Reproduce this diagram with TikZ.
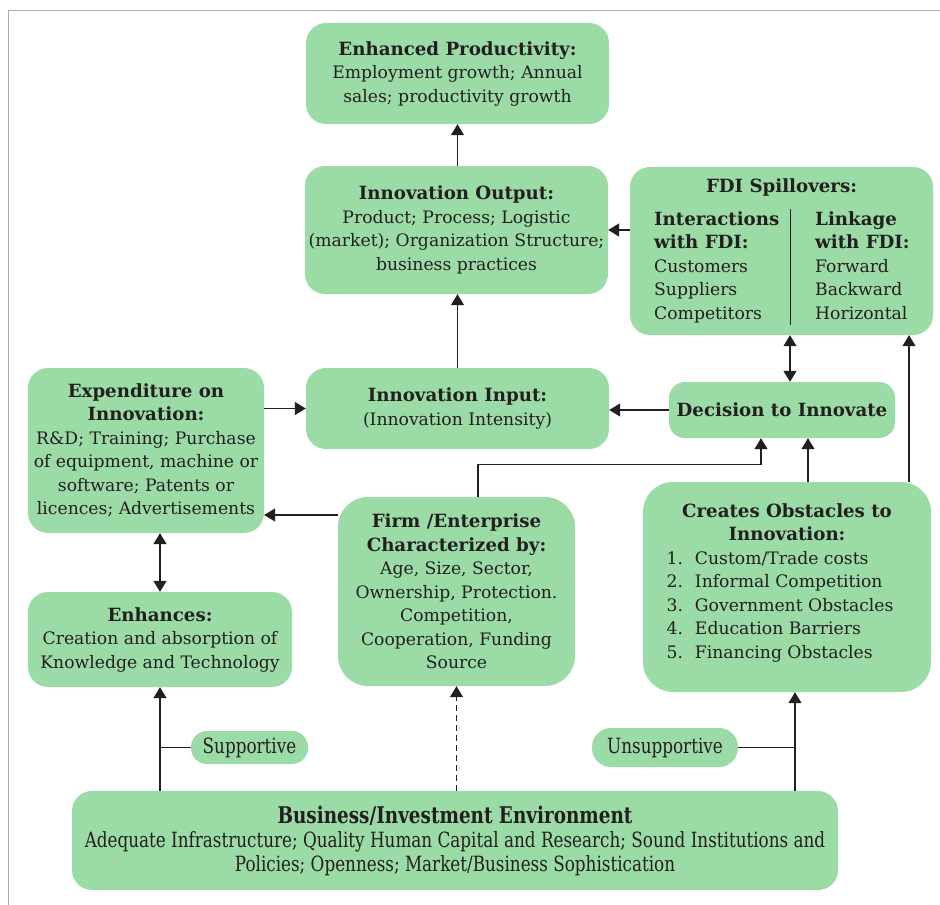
\documentclass[tikz,border=0pt]{standalone}
\usepackage{fontspec}
\setmainfont{DejaVu Serif}
\newfontfamily\condfont[FakeStretch=0.8]{DejaVu Serif}
\usetikzlibrary{arrows.meta}
\definecolor{boxgreen}{RGB}{155,219,165}
\definecolor{ink}{RGB}{35,31,32}
\definecolor{framegray}{RGB}{170,170,170}
\newcommand{\mfont}{\fontsize{17.2}{23.5}\selectfont}
\newcommand{\cfont}{\condfont\fontsize{21}{24}\selectfont}
\newcommand{\hd}[1]{{\fontsize{18.2}{23.5}\selectfont\bfseries #1}}
\tikzset{
  box/.style={fill=boxgreen, draw=none, rounded corners=20pt, align=center, inner sep=0pt,
    font=\mfont, text=ink},
  arr/.style={-{Triangle[width=13pt,length=11pt]}, line width=1.3pt, draw=ink},
  barr/.style={{Triangle[width=13pt,length=11pt]}-{Triangle[width=13pt,length=11pt]}, line width=1.3pt, draw=ink},
  plain/.style={line width=1.3pt, draw=ink},
}
\begin{document}
\begin{tikzpicture}[x=1pt,y=-1pt]
\useasboundingbox (0,0) rectangle (940,905);
\draw[framegray, line width=1pt] (8,905) -- (8,10) -- (940,10);

\node[box, minimum width=303pt, minimum height=101pt] (prod) at (457.5,73.5)
  {\hd{Enhanced Productivity:}\\Employment growth; Annual\\sales; productivity growth};
\node[box, minimum width=303pt, minimum height=128pt] (out) at (456.5,230)
  {\hd{Innovation Output:}\\Product; Process; Logistic\\(market); Organization Structure;\\business practices};
\node[box, minimum width=303pt, minimum height=168pt] (fdi) at (781.5,251) {};
\node[font=\mfont, text=ink, inner sep=0pt] (fditit) at (781.5,187) {\hd{FDI Spillovers:}};
\node[font=\mfont, text=ink, align=left, anchor=north west, inner sep=0pt] (fdil) at (654,211)
  {\hd{Interactions}\\\hd{with FDI:}\\Customers\\Suppliers\\Competitors};
\node[font=\mfont, text=ink, align=left, anchor=north west, inner sep=0pt] (fdir) at (815,211)
  {\hd{Linkage}\\\hd{with FDI:}\\Forward\\Backward\\Horizontal};
\draw[plain, line width=1pt] (790,209) -- (790,325);

\node[box, minimum width=236pt, minimum height=165pt] (exp) at (146,450.5)
  {\hd{Expenditure on}\\\hd{Innovation:}\\R\&D; Training; Purchase\\of equipment, machine or\\software; Patents or\\licences; Advertisements};
\node[box, minimum width=303pt, minimum height=81pt] (inp) at (457.5,408.5)
  {\hd{Innovation Input:}\\(Innovation Intensity)};
\node[box, rounded corners=16pt, minimum width=226pt, minimum height=56pt] (dec) at (782,410)
  {\hd{Decision to Innovate}};
\node[box, rounded corners=30pt, minimum width=237pt, minimum height=189pt] (firm) at (456.5,591.5)
  {\hd{Firm /Enterprise}\\\hd{Characterized by:}\\Age, Size, Sector,\\Ownership, Protection.\\Competition,\\Cooperation, Funding\\Source};
\node[box, rounded corners=30pt, minimum width=288pt, minimum height=210pt] (obs) at (787,587)
  {\hd{Creates Obstacles to}\\\hd{Innovation:}\\
   \begin{tabular}[t]{@{}l@{\hspace{12pt}}l@{}}
   1. & Custom/Trade costs\\
   2. & Informal Competition\\
   3. & Government Obstacles\\
   4. & Education Barriers\\
   5. & Financing Obstacles
   \end{tabular}\kern14pt\null\\[4pt]};
\node[box, minimum width=264pt, minimum height=95pt] (enh) at (160,639.5)
  {\hd{Enhances:}\\Creation and absorption of\\Knowledge and Technology};
\node[box, rounded corners=16pt, minimum width=117pt, minimum height=33pt, font=\cfont] (sup) at (249.5,747.5)
  {Supportive};
\node[box, rounded corners=19pt, minimum width=146pt, minimum height=39pt, font=\cfont] (unsup) at (665,747.5)
  {Unsupportive};
\node[box, minimum width=766pt, minimum height=99pt, font=\cfont] (env) at (455,840.5)
  {{\fontsize{23}{24}\selectfont\bfseries Business/Investment Environment}\\Adequate Infrastructure; Quality Human Capital and Research; Sound Institutions and\\Policies; Openness; Market/Business Sophistication};

% helper coordinates
\coordinate (firmL) at ([yshift=76.5pt]firm.west);
\coordinate (obsX) at ([xshift=8pt]obs.south);

% connectors
\draw[arr] (prod.south |- out.north) -- (prod.south);
\draw[arr] (prod.south |- inp.north) -- (prod.south |- out.south);
\draw[arr] (fdi.west |- out.east) -- (out.east);
\draw[arr] (exp.east |- inp.west) -- (inp.west);
\draw[arr] (dec.west) -- (inp.east |- dec.west);
\draw[barr] ([xshift=8pt]dec.north) -- ([xshift=8pt]dec.north |- fdi.south);
\draw[arr] ([xshift=21.5pt]firm.north) -- ++(0,-32) -| ([xshift=-21pt]dec.south);
\draw[arr] ([xshift=26pt]dec.south |- obs.north) -- ([xshift=26pt]dec.south);
\draw[arr] ([xshift=127.5pt]fdi.south |- obs.north) -- ([xshift=127.5pt]fdi.south);
\draw[arr] (firmL) -- (exp.east |- firmL);
\draw[barr] (enh.north) -- (enh.north |- exp.south);
\draw[arr] (enh.south |- env.north) -- (enh.south);
\draw[plain] (sup.west) -- (sup.west -| enh.south);
\draw[arr, dashed, dash pattern=on 6pt off 4pt, line width=1pt] (firm.south |- env.north) -- (firm.south);
\draw[arr] (obsX |- env.north) -- (obsX);
\draw[plain] (unsup.east) -- (unsup.east -| obsX);
\end{tikzpicture}
\end{document}
